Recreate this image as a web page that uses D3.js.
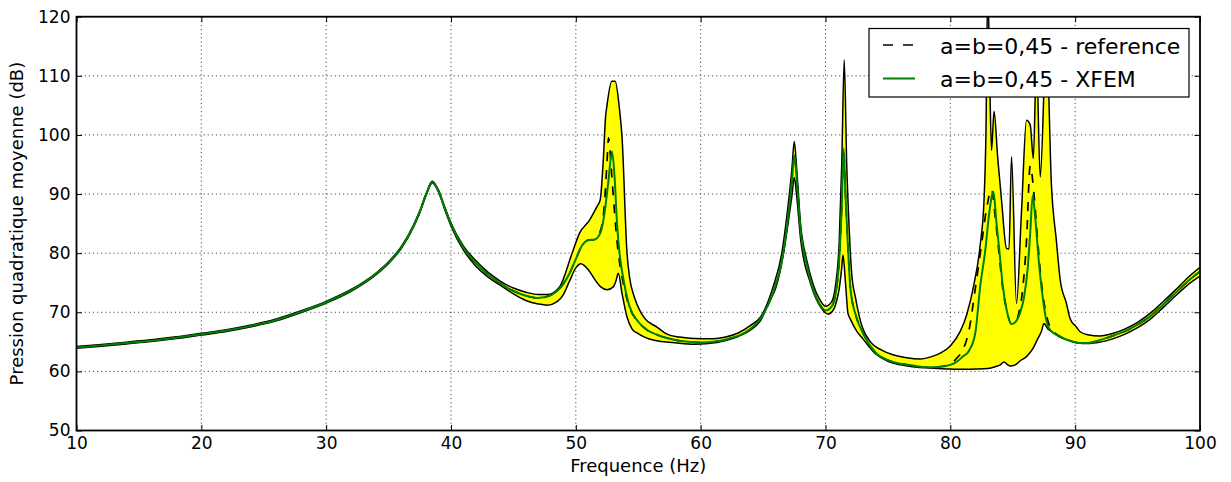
<!DOCTYPE html>
<html>
<head>
<meta charset="utf-8">
<script src="https://cdn.jsdelivr.net/npm/d3@7"></script>
<style>
  body { margin: 0; background: #fff; }
  svg { display: block; font-family: "DejaVu Sans", sans-serif; }
</style>
</head>
<body>
<div id="chart"></div>
<script>
// tick values
const xTicks = [10, 20, 30, 40, 50, 60, 70, 80, 90, 100];
const yTicks = [50, 60, 70, 80, 90, 100, 110, 120];

// upper bound of the yellow band
const upperFreq = [10,12,14,16,18,20,22,24,26,28,
  30,32,34,35,36,37,37.5,38,38.5,39,
  39.5,40,41,42,43,44,45,46,47,47.7,
  48.7,49.7,50.3,51.1,51.7,51.95,52.2,52.4,52.45,52.88,
  53.15,53.5,53.7,54.1,54.3,54.7,55.1,55.5,56.5,57.3,
  58.3,60,61,62,63,64,64.8,65.8,66.5,67,
  67.3,67.5,67.7,68,68.5,69,69.5,70,70.5,70.8,
  71.1,71.3,71.5,71.7,71.9,72.1,72.4,72.8,73.6,74.5,
  75.4,76.5,77.6,78.5,79.2,80,80.8,81.3,81.9,82.4,
  82.7,82.85,83.0,83.15,83.3,83.5,83.8,84.1,84.5,84.7,
  84.9,85.3,85.7,86.1,86.4,86.65,86.9,87.2,87.7,88.1,
  88.5,88.8,89.3,89.6,90.1,90.4,91,92,93,94,
  95,96,97,98,99,100];
const upperDb = [64.2,64.55,64.95,65.35,65.85,66.45,67.05,67.85,68.85,70.25,
  71.85,73.85,76.65,78.55,81.05,84.75,87.15,90.05,92.15,90.65,
  87.8,85.1,81.2,78.7,76.7,75.2,74.1,73.4,73.0,73.0,
  74.3,80.0,83.4,85.6,87.9,89.0,95.8,103.5,104.3,109.1,
  109.1,104.3,99.7,80.0,76.0,72.5,70.4,69.0,67.5,66.3,
  65.8,65.5,65.5,65.8,66.5,67.8,69.2,74.3,80.0,88.0,
  94.0,98.9,94.0,85.0,78.8,74.8,72.3,71.0,71.8,74.5,
  82.0,95.0,112.7,95.0,84.0,76.5,72.5,68.5,65.0,63.6,
  62.8,62.3,62.1,62.5,63.1,64.3,66.8,69.5,74.8,81.5,
  89.0,100,125,110,97.4,104.0,96.0,89.0,80.8,80.7,
  96.3,71.5,87.0,102.5,101.7,96.0,113,92.9,116,91.5,
  82.0,75.5,71.5,68.9,67.5,66.7,66.2,66.0,66.4,67.2,
  68.3,69.8,71.7,73.7,75.8,77.6];

// lower bound of the yellow band
const lowerFreq = [10,12,14,16,18,20,22,24,26,28,
  30,32,34,35,36,37,37.5,38,38.5,39,
  39.5,40,41,42,43,44,45,46,47,47.7,
  48.5,49,49.5,50,50.4,51,51.5,52,52.5,53,
  53.2,53.4,53.7,54.1,54.5,54.9,55.5,56.2,58.1,59.5,
  61.3,62,63,64,64.8,65.5,66,66.6,67,67.3,
  67.5,67.7,68,68.8,69.6,70.2,70.6,70.9,71.1,71.3,
  71.4,71.6,71.8,72,72.5,73,74,75,76,77,
  78,79,80,81,82,83,83.6,84,84.3,84.6,
  84.8,85.2,85.6,86.1,86.6,87,87.3,87.5,87.8,88.2,
  88.7,89.3,90.1,91,92,93,94,95,96,97,
  98,99,100];
const lowerDb = [63.9,64.25,64.65,65.05,65.55,66.15,66.75,67.55,68.55,69.95,
  71.55,73.55,76.35,78.25,80.75,84.45,86.85,89.75,91.85,90.35,
  87.4,84.6,80.5,77.8,75.9,74.5,73.1,72.0,71.4,71.2,
  71.8,73.0,75.3,77.5,78.2,77.2,75.6,74.3,73.8,74.3,
  75.2,76.6,73.2,69.2,67.2,66.5,65.8,65.3,64.8,64.6,
  64.9,65.2,65.9,67.0,68.6,71.8,74.0,79.5,85.0,89.5,
  92.8,89.5,82.5,74.9,70.9,69.7,70.3,72.0,74.0,77.5,
  79.7,75.0,69.8,68.8,66.8,65.5,63.0,61.7,61.1,60.8,
  60.6,60.5,60.4,60.35,60.4,60.5,60.8,61.1,61.6,61.1,
  60.9,61.1,61.8,62.5,63.8,65.5,66.8,68.1,67.2,66.6,
  65.9,65.4,64.9,64.7,64.95,65.5,66.3,67.4,68.8,70.7,
  72.7,74.6,76.1];

// a=b=0,45 - reference (dashed)
const refFreq = [10,12,14,16,18,20,22,24,26,28,
  30,32,34,35,36,37,37.5,38,38.5,39,
  39.5,40,41,42,43,44,45,46,47,48,
  48.5,49,49.5,50,50.5,51,51.5,52,52.3,52.5,
  52.62,52.75,52.9,53.1,53.3,53.5,53.7,54,54.3,55,
  55.7,56.5,57.8,59,60,61,62,63,64,65,
  66,66.5,67,67.3,67.5,67.7,68,68.5,69,69.5,
  70,70.5,70.8,71.1,71.3,71.45,71.6,71.8,72,72.5,
  73,74,75,76,77,78,79,80,80.5,81,
  81.5,82,82.5,82.9,83.3,83.6,83.9,84.2,84.5,84.9,
  85.2,85.5,85.8,86.1,86.4,86.7,87,87.3,87.6,88,
  88.8,89.5,90.4,91,92,93,94,95,96,97,
  98,99,100];
const refDb = [64.05,64.4,64.8,65.2,65.7,66.3,66.9,67.7,68.7,70.1,
  71.7,73.7,76.5,78.4,80.9,84.6,87.0,89.9,92.0,90.5,
  87.6,84.9,80.9,78.3,76.3,74.8,73.6,72.8,72.4,72.9,
  73.6,74.8,76.6,79.0,81.3,82.2,82.3,84.0,88.5,95.5,
  99.5,97.0,92.5,87.0,82.0,78.5,76.0,73.0,70.8,68.4,
  67.0,66.2,65.4,65.0,64.9,65.0,65.4,66.0,67.2,69.6,
  74.6,78.6,86.0,92.0,96.5,92.5,84.0,78.0,74.0,71.5,
  70.3,71.0,73.0,79.0,88.0,97.7,90.0,81.0,74.0,69.0,
  66.5,63.2,61.9,61.3,61.0,60.7,60.75,61.3,62.2,63.6,
  67.0,74.0,81.5,87.5,90.8,86.0,80.0,74.0,70.5,68.0,
  68.2,70.0,74.0,82.0,94.8,90.0,82.0,75.0,70.5,67.5,
  65.9,65.2,64.8,64.8,65.3,66.0,66.8,67.9,69.3,71.2,
  73.2,75.2,76.9];

// a=b=0,45 - XFEM (green)
const xfemFreq = [10,12,14,16,18,20,22,24,26,28,
  30,32,34,35,36,37,37.5,38,38.5,39,
  39.5,40,41,42,43,44,45,46,47,48,
  48.5,49,49.5,50,50.5,51,51.5,52,52.3,52.6,
  52.9,53.1,53.3,53.5,53.7,54,54.3,55,55.7,56.5,
  57.8,59,60,61,62,63,64,65,66,66.5,
  67,67.3,67.5,67.7,68,68.5,69,69.5,70,70.5,
  70.8,71.1,71.3,71.45,71.6,71.8,72,72.5,73,74,
  75,76,77,78,79,80,80.5,81,81.5,82,
  82.4,82.8,83.1,83.45,83.7,83.9,84.2,84.5,84.9,85.2,
  85.6,85.9,86.2,86.4,86.6,86.8,87.1,87.4,87.7,88,
  88.8,89.5,90.4,91,92,93,94,95,96,97,
  98,99,100];
const xfemDb = [64.05,64.4,64.8,65.2,65.7,66.3,66.9,67.7,68.7,70.1,
  71.7,73.7,76.5,78.4,80.9,84.6,87.0,89.9,92.0,90.5,
  87.6,84.9,80.9,78.3,76.3,74.8,73.6,72.8,72.4,72.9,
  73.6,74.8,76.6,79.0,81.3,82.2,82.3,83.6,86.8,92.0,
  97.2,93.0,85.0,80.0,77.0,73.5,71.0,68.4,67.0,66.2,
  65.4,65.0,64.9,65.0,65.4,66.0,67.2,69.6,74.6,78.6,
  86.0,92.0,96.5,92.5,84.0,78.0,74.0,71.5,70.3,71.0,
  73.0,79.0,88.0,97.7,90.0,81.0,74.0,69.0,66.5,63.2,
  61.9,61.3,61.0,60.7,60.75,61.1,61.6,62.5,63.5,66.5,
  74.5,80.5,86.5,90.4,85.0,81.0,74.5,70.5,68.0,68.3,
  70.0,72.5,77.5,83.5,89.8,86.0,78.3,72.5,68.5,67.0,
  65.9,65.2,64.8,64.8,65.3,66.0,66.8,67.9,69.3,71.2,
  73.2,75.2,76.9];

const legendLabels = ["a=b=0,45 - reference", "a=b=0,45 - XFEM"];

let width = 1231;
let height = 482;
const plot = { x0: 76.5, x1: 1200, y0: 16.7, y1: 430.5 };
let xScale, yScale;

let svg = d3.select("#chart")
            .append("svg")
            .attr("width", width)
            .attr("height", height);

const zip = (f, v) => f.map((x, i) => [x, v[i]]);

function generateScales() {
  xScale = d3.scaleLinear().domain([10, 100]).range([plot.x0, plot.x1]);
  yScale = d3.scaleLinear().domain([50, 120]).range([plot.y1, plot.y0]);
}

function drawGrid() {
  let g = svg.append("g")
             .attr("stroke", "#000")
             .attr("stroke-width", 0.7)
             .attr("stroke-dasharray", "1.2,2.9");

  g.selectAll(".gx").data(xTicks).enter().append("line")
   .attr("x1", d => xScale(d)).attr("x2", d => xScale(d))
   .attr("y1", plot.y0).attr("y2", plot.y1);

  g.selectAll(".gy").data(yTicks).enter().append("line")
   .attr("x1", plot.x0).attr("x2", plot.x1)
   .attr("y1", d => yScale(d)).attr("y2", d => yScale(d));
}

function generateLines() {
  let defs = svg.append("defs");
  defs.append("clipPath").attr("id", "plot-clip")
      .append("rect")
      .attr("x", plot.x0).attr("y", plot.y0)
      .attr("width", plot.x1 - plot.x0).attr("height", plot.y1 - plot.y0);

  // the band is what lies above the lower curve and below the upper one
  defs.append("clipPath").attr("id", "above-lower")
      .append("path")
      .attr("d", d3.area()
                   .x(d => xScale(d[0]))
                   .y0(plot.y0 - 100)
                   .y1(d => yScale(d[1]))
                   .curve(d3.curveMonotoneX)(zip(lowerFreq, lowerDb)));

  let line = d3.line()
               .x(d => xScale(d[0]))
               .y(d => yScale(d[1]))
               .curve(d3.curveMonotoneX);

  let g = svg.append("g").attr("clip-path", "url(#plot-clip)");

  g.append("g").attr("clip-path", "url(#above-lower)")
   .append("path")
   .attr("d", d3.area()
                .x(d => xScale(d[0]))
                .y0(plot.y1 + 100)
                .y1(d => yScale(d[1]))
                .curve(d3.curveMonotoneX)(zip(upperFreq, upperDb)))
   .attr("fill", "#ffff00");

  [zip(upperFreq, upperDb), zip(lowerFreq, lowerDb)].forEach(pts => {
    g.append("path")
     .attr("d", line(pts))
     .attr("fill", "none")
     .attr("stroke", "#000")
     .attr("stroke-width", 1.5)
     .attr("stroke-linejoin", "round");
  });

  g.append("path")
   .attr("d", line(zip(refFreq, refDb)))
   .attr("fill", "none")
   .attr("stroke", "#000")
   .attr("stroke-width", 1.7)
   .attr("stroke-dasharray", "9,9");

  g.append("path")
   .attr("d", line(zip(xfemFreq, xfemDb)))
   .attr("fill", "none")
   .attr("stroke", "#008000")
   .attr("stroke-width", 2)
   .attr("stroke-linejoin", "round");
}

function generateAxes() {
  const tick = 5.5;
  let xAxis = d3.axisBottom(xScale).tickValues(xTicks).tickSizeInner(-tick).tickSizeOuter(0).tickPadding(6);
  let yAxis = d3.axisLeft(yScale).tickValues(yTicks).tickSizeInner(-tick).tickSizeOuter(0).tickPadding(6);
  let xTop = d3.axisTop(xScale).tickValues(xTicks).tickSizeInner(-tick).tickSizeOuter(0).tickFormat("");
  let yRight = d3.axisRight(yScale).tickValues(yTicks).tickSizeInner(-tick).tickSizeOuter(0).tickFormat("");

  svg.append("g").attr("transform", `translate(0, ${plot.y1})`).call(xAxis);
  svg.append("g").attr("transform", `translate(${plot.x0}, 0)`).call(yAxis);
  svg.append("g").attr("transform", `translate(0, ${plot.y0})`).call(xTop);
  svg.append("g").attr("transform", `translate(${plot.x1}, 0)`).call(yRight);

  svg.selectAll(".domain").remove();
  svg.selectAll(".tick line").attr("stroke", "#000").attr("stroke-width", 1);
  svg.selectAll(".tick text")
     .attr("fill", "#000")
     .style("font-family", "DejaVu Sans")
     .style("font-size", "17px");

  svg.append("rect")
     .attr("x", plot.x0).attr("y", plot.y0)
     .attr("width", plot.x1 - plot.x0).attr("height", plot.y1 - plot.y0)
     .attr("fill", "none")
     .attr("stroke", "#000")
     .attr("stroke-width", 1.8);

  svg.append("text")
     .attr("x", (plot.x0 + plot.x1) / 2)
     .attr("y", 472)
     .attr("text-anchor", "middle")
     .style("font-size", "18px")
     .text("Frequence (Hz)");

  svg.append("text")
     .attr("transform", `translate(23, ${(plot.y0 + plot.y1) / 2}) rotate(-90)`)
     .attr("text-anchor", "middle")
     .style("font-size", "18px")
     .text("Pression quadratique moyenne (dB)");
}

function drawLegend() {
  let g = svg.append("g");
  g.append("rect")
   .attr("x", 869).attr("y", 28.5)
   .attr("width", 320).attr("height", 68.5)
   .attr("fill", "#fff")
   .attr("stroke", "#000")
   .attr("stroke-width", 1.2);

  const rows = [45, 78.5];
  g.append("line")
   .attr("x1", 883).attr("x2", 915).attr("y1", rows[0]).attr("y2", rows[0])
   .attr("stroke", "#000").attr("stroke-width", 1.7).attr("stroke-dasharray", "10,10");
  g.append("line")
   .attr("x1", 883).attr("x2", 915).attr("y1", rows[1]).attr("y2", rows[1])
   .attr("stroke", "#008000").attr("stroke-width", 2);

  g.selectAll("text").data(legendLabels).enter().append("text")
   .attr("x", 940)
   .attr("y", (d, i) => rows[i] + 8.5)
   .style("font-size", "22px")
   .text(d => d);
}

generateScales();
drawGrid();
generateLines();
generateAxes();
drawLegend();
</script>
</body>
</html>
